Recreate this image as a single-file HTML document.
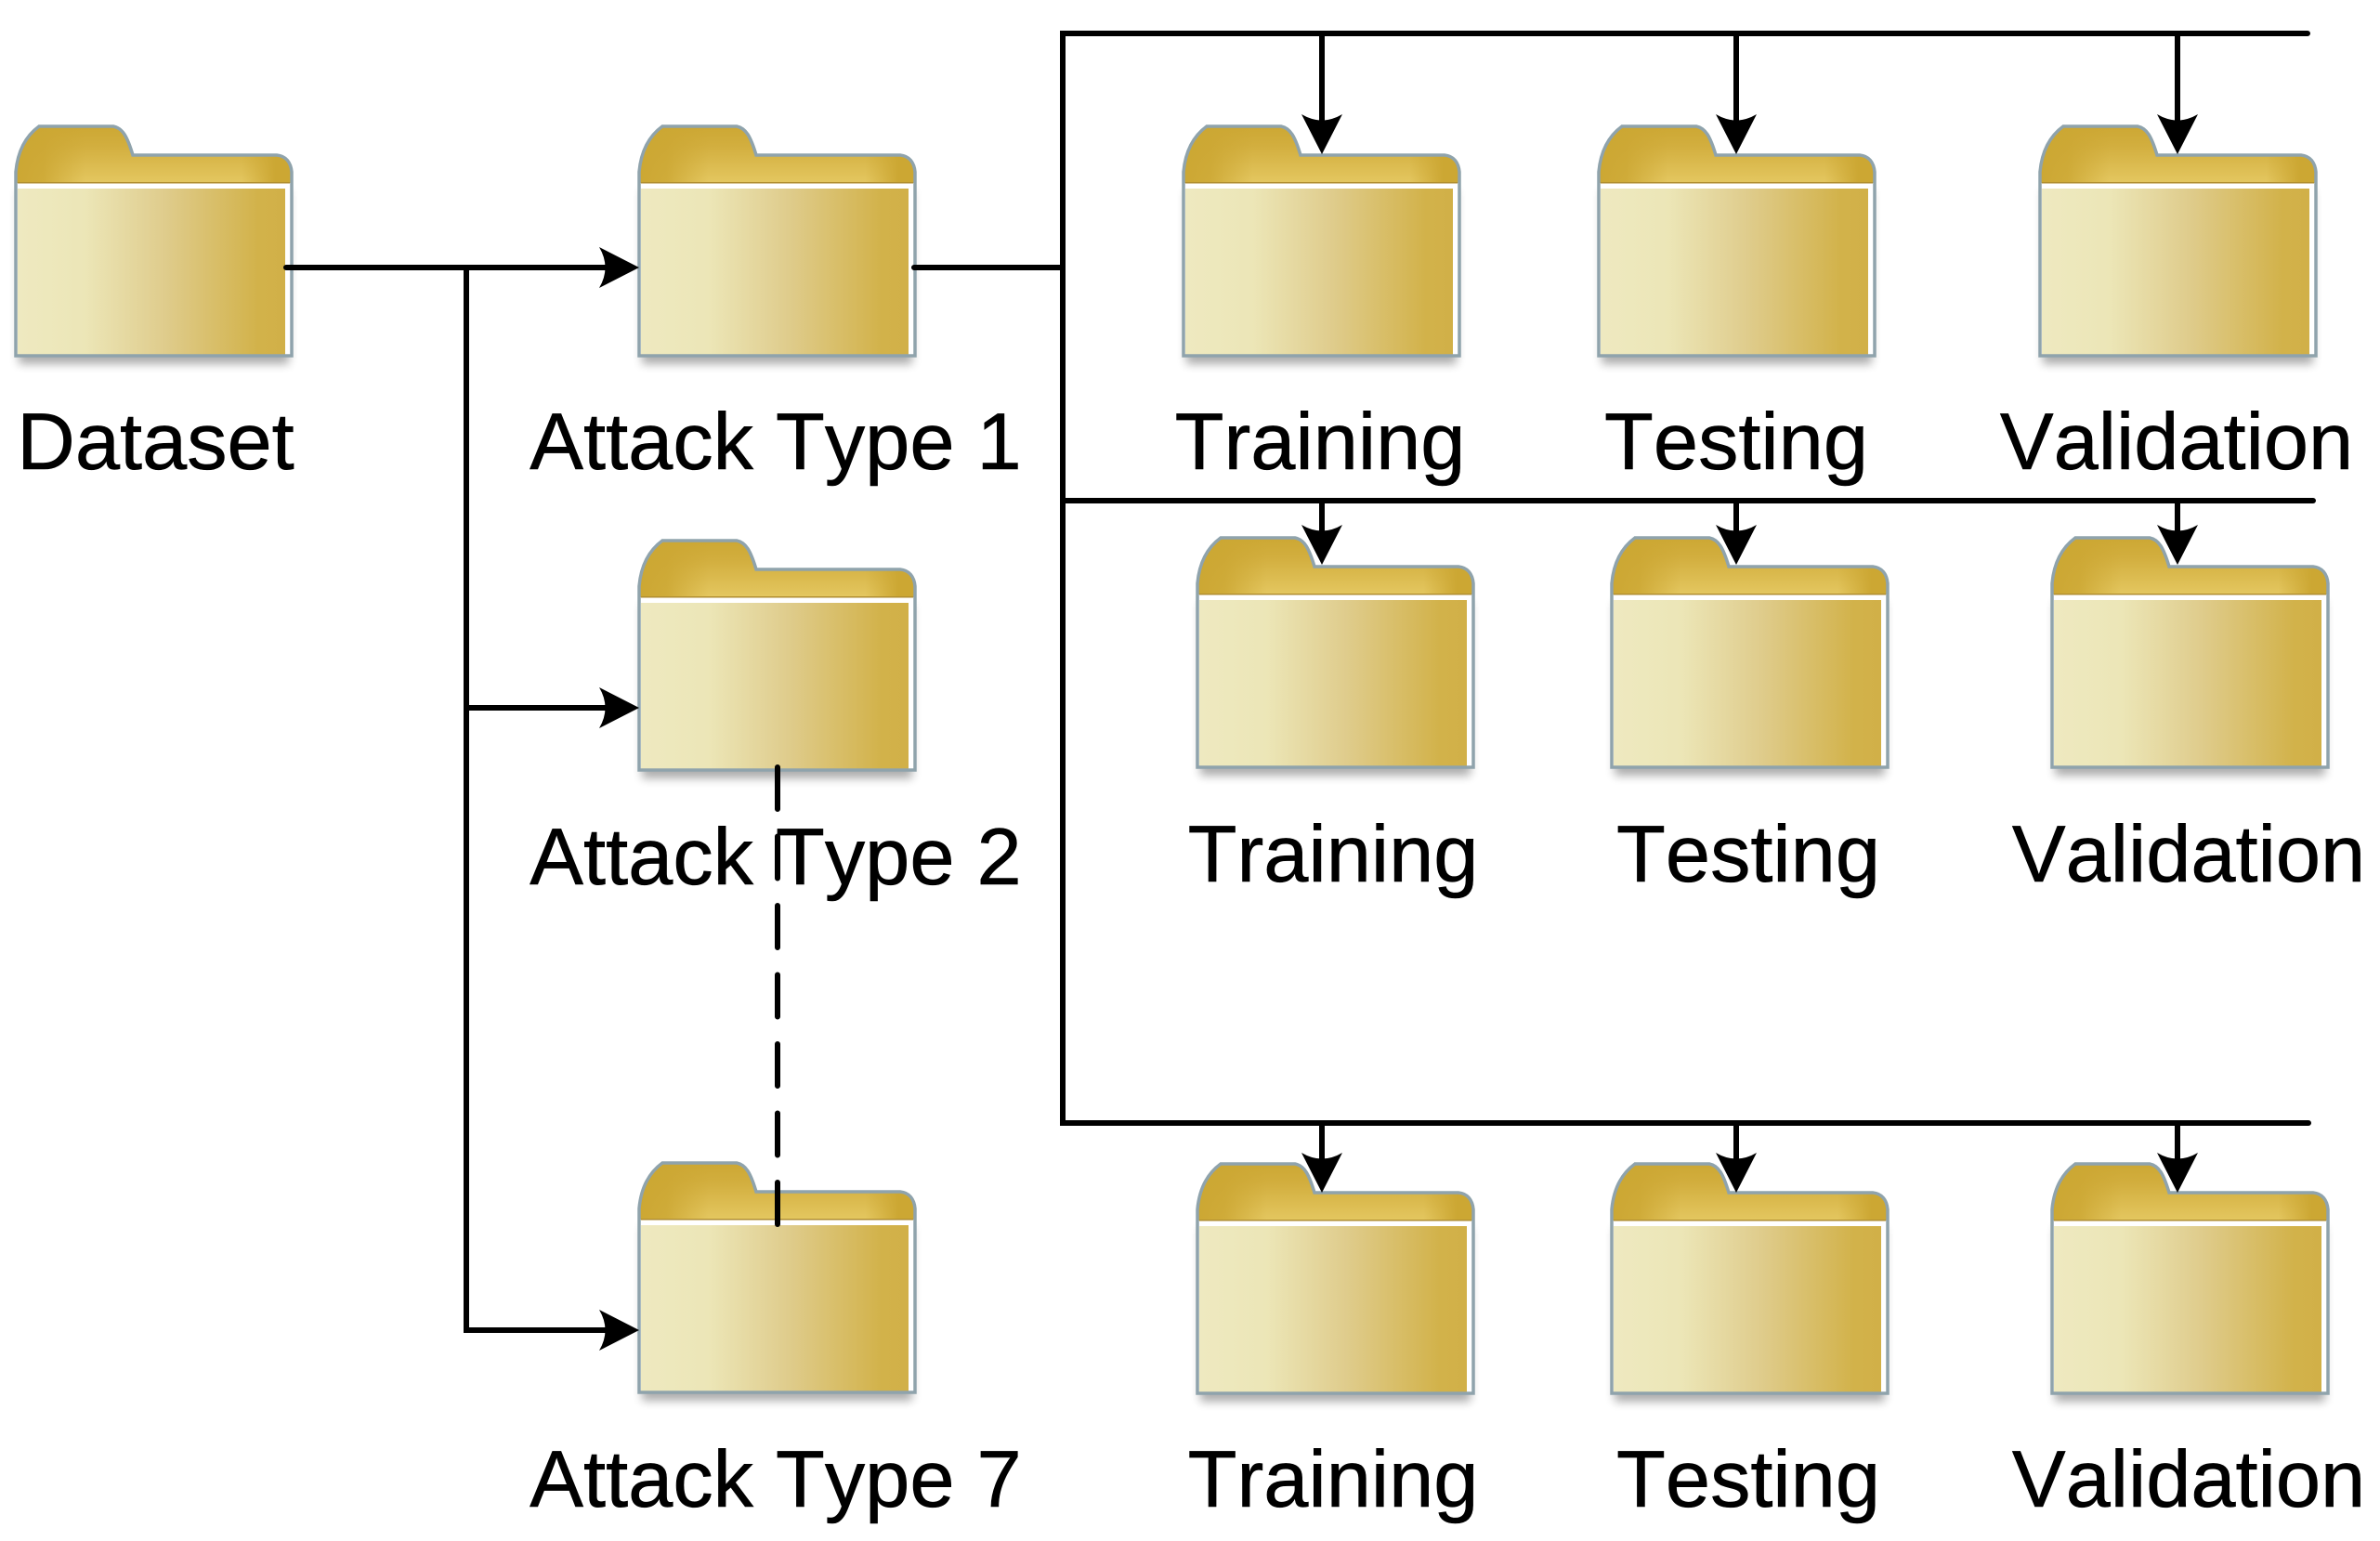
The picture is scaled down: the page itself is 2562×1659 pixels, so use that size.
<!DOCTYPE html>
<html><head><meta charset="utf-8"><style>html,body{margin:0;padding:0;background:#fff}svg{display:block}text{font-family:"Liberation Sans",sans-serif;font-size:86.6px;fill:#000;stroke:#000;stroke-width:.6px;text-anchor:middle;font-kerning:none;text-rendering:geometricPrecision}</style></head><body>
<svg width="2562" height="1659" viewBox="0 0 2562 1659" xmlns="http://www.w3.org/2000/svg">
<defs>
<linearGradient id="b" x1="0" x2="1" y1="0" y2="0"><stop offset="0" stop-color="#EEE9C0"/><stop offset=".25" stop-color="#ECE6B7"/><stop offset=".55" stop-color="#DFCC8C"/><stop offset=".9" stop-color="#D2B24A"/><stop offset="1" stop-color="#D1B048"/></linearGradient>
<linearGradient id="t" gradientUnits="userSpaceOnUse" x1="0" x2="0" y1="0" y2="62"><stop offset="0" stop-color="#CCA733"/><stop offset=".35" stop-color="#D2AE3E"/><stop offset="1" stop-color="#E4C760"/></linearGradient>
<linearGradient id="e" x1="0" x2="1" y1="0" y2="0"><stop offset="0" stop-color="#CCA733"/><stop offset=".1" stop-color="#CCA733" stop-opacity=".85"/><stop offset=".25" stop-color="#CCA733" stop-opacity="0"/><stop offset=".82" stop-color="#CCA733" stop-opacity="0"/><stop offset=".94" stop-color="#CCA733"/><stop offset="1" stop-color="#CCA733"/></linearGradient>
<filter id="s" x="-10%" y="-10%" width="120%" height="125%"><feGaussianBlur stdDeviation="5"/></filter>
<path id="ol" d="M0,62 L0,50 C2,28 10,12 25,1 L105,1 C115,3 120,12 126,32 L281,32 C291,33 296,40 297,50 L297,62 L297,248 L0,248 Z"/>
<g id="f">
<rect x="3" y="70" width="291" height="187" fill="#000" opacity=".32" filter="url(#s)"/>
<use href="#ol" fill="url(#t)"/>
<use href="#ol" fill="url(#e)"/>
<rect x="0" y="62" width="297" height="186" fill="#fff"/>
<rect x="2" y="68" width="288" height="178.5" fill="url(#b)"/>
<rect x="2" y="61" width="293" height="1.5" fill="#B08E30"/>
<use href="#ol" fill="none" stroke="#8FA3AC" stroke-width="3.5"/>
</g>
<path id="ad" d="M0,0 L-22,-43 Q0,-30 22,-43 Z" fill="#000"/>
</defs>
<use href="#f" x="17" y="135"/>
<use href="#f" x="688" y="135"/>
<use href="#f" x="688" y="581"/>
<use href="#f" x="688" y="1251"/>
<use href="#f" x="1274" y="135"/>
<use href="#f" x="1721" y="135"/>
<use href="#f" x="2196" y="135"/>
<use href="#f" x="1289" y="578"/>
<use href="#f" x="1735" y="578"/>
<use href="#f" x="2209" y="578"/>
<use href="#f" x="1289" y="1252"/>
<use href="#f" x="1735" y="1252"/>
<use href="#f" x="2209" y="1252"/>
<g stroke="#000" stroke-width="6" fill="none" stroke-linecap="round">
<path d="M308,288 H660 M502,288 V1432 H660 M502,762 H660"/>
<path d="M984,288 H1144 M2484,36 H1144 V1209 H2485 M1144,539 H2490"/>
<path d="M1423,36 V135 M1869,36 V135 M2344,36 V135 M1423,539 V580 M1869,539 V580 M2344,539 V580 M1423,1209 V1255 M1869,1209 V1255 M2344,1209 V1255"/>
<path d="M837,826 V1318" stroke-dasharray="45 29.5"/>
</g>
<use href="#ad" transform="translate(688,288) rotate(-90)"/>
<use href="#ad" transform="translate(688,762) rotate(-90)"/>
<use href="#ad" transform="translate(688,1432) rotate(-90)"/>
<use href="#ad" x="1423" y="166"/><use href="#ad" x="1869" y="166"/><use href="#ad" x="2344" y="166"/>
<use href="#ad" x="1423" y="608"/><use href="#ad" x="1869" y="608"/><use href="#ad" x="2344" y="608"/>
<use href="#ad" x="1423" y="1284"/><use href="#ad" x="1869" y="1284"/><use href="#ad" x="2344" y="1284"/>
<text x="167.5" y="505">Dataset</text>
<text x="835" y="505">Attack Type 1</text>
<text x="835" y="952">Attack Type 2</text>
<text x="835" y="1622">Attack Type 7</text>
<text x="1421" y="505">Training</text><text x="1869" y="505">Testing</text><text x="2343" y="505">Validation</text>
<text x="1435" y="949">Training</text><text x="1882" y="949">Testing</text><text x="2356" y="949">Validation</text>
<text x="1435" y="1622">Training</text><text x="1882" y="1622">Testing</text><text x="2356" y="1622">Validation</text>
</svg>
</body></html>
